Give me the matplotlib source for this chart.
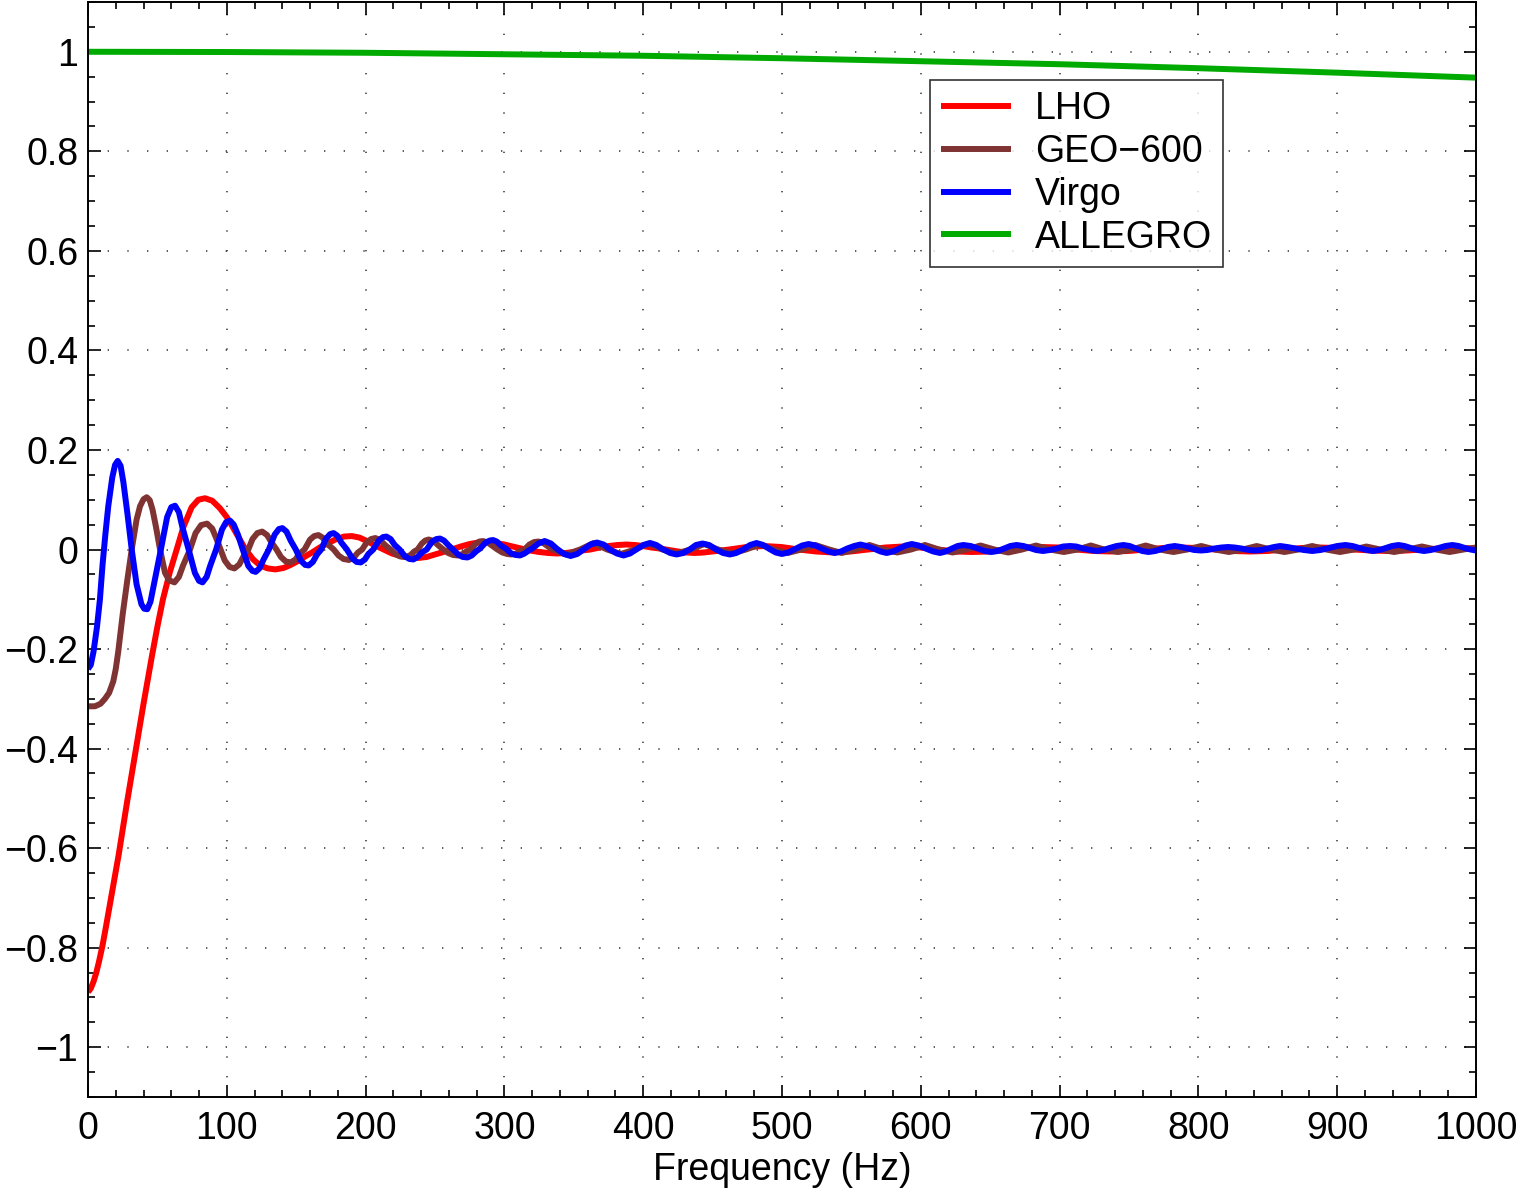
import matplotlib
matplotlib.use("Agg")
import matplotlib.pyplot as plt
from matplotlib.ticker import MultipleLocator, FuncFormatter

plt.rcParams['font.family'] = ['Liberation Sans', 'DejaVu Sans']

# ---------------- data (frequency Hz, overlap value) ----------------
lho_points = [
    (0, -0.889), (2, -0.882), (4, -0.868), (6, -0.85), (8, -0.827), (10.5, -0.795), (13, -0.757),
    (16, -0.71), (22, -0.615), (28, -0.51),
    (34, -0.41), (40, -0.31), (46, -0.215), (50, -0.155), (54, -0.1), (59, -0.045), (63.9, 0.0),
    (68.7, 0.045), (74.7, 0.085), (79.5, 0.1), (84.3, 0.103), (89.5, 0.098), (95, 0.083),
    (100, 0.065), (104.7, 0.043), (109, 0.022), (113.5, 0.0), (119, -0.02), (124, -0.032),
    (129.5, -0.038), (135, -0.04), (141, -0.037), (146, -0.031), (152, -0.022), (157, -0.013),
    (162, -0.005), (167, 0.004), (173, 0.013), (179, 0.021), (184.5, 0.026), (190, 0.027),
    (195.5, 0.024), (201, 0.017), (207, 0.008), (213, 0.0), (219, -0.008), (225, -0.013),
    (231.5, -0.016), (238, -0.017), (244, -0.015), (250, -0.01), (256, -0.005), (262, 0.0),
    (268.5, 0.006), (275, 0.011), (281, 0.014), (287, 0.015), (293.5, 0.013), (300, 0.01),
    (306, 0.006), (312, 0.002), (318.5, -0.002), (325, -0.005), (331.5, -0.007), (338, -0.008),
    (344, -0.007), (350, -0.005), (356, -0.002), (362, 0.0), (368.5, 0.004), (375, 0.007),
    (381.5, 0.009), (388, 0.01), (394, 0.009), (400, 0.007), (406, 0.004), (412, 0.002),
    (418.5, -0.001), (425, -0.004), (431, -0.006), (437, -0.007), (443.5, -0.006), (450, -0.004),
    (456, -0.002), (462, 0.0), (474.5, 0.005), (487, 0.007), (499.5, 0.005), (512, 0.0),
    (524.5, -0.004), (537, -0.006), (549.5, -0.004), (562, 0.0), (574.5, 0.004), (587, 0.006),
    (599.5, 0.004), (612, 0.0), (624.5, -0.004), (637, -0.005), (649.5, -0.004), (662, 0.0),
    (674.5, 0.004), (687, 0.005), (699.5, 0.004), (712, 0.0), (724.5, -0.003), (737, -0.004),
    (749.5, -0.003), (762, 0.0), (774.5, 0.003), (787, 0.004), (799.5, 0.003), (812, 0.0),
    (824.5, -0.003), (837, -0.004), (849.5, -0.003), (862, 0.0), (874.5, 0.003), (887, 0.004),
    (899.5, 0.003), (912, 0.0), (924.5, -0.002), (937, -0.003), (949.5, -0.002), (962, 0.0),
    (974.5, 0.002), (987, 0.003), (1000, 0.002)]

geo_points = [
    (0, -0.315), (5, -0.315), (9, -0.31), (12.2, -0.3), (15.2, -0.288), (18.2, -0.265),
    (20, -0.24), (21.8, -0.205), (25, -0.13), (28.3, -0.062), (31.5, 0.0), (35, 0.06),
    (37.5, 0.087), (40, 0.101), (42.3, 0.105), (44.5, 0.099), (46.5, 0.08), (49, 0.045),
    (51.9, 0.0), (55.5, -0.047), (58.5, -0.062), (62.3, -0.066), (65.5, -0.055), (68.5, -0.032),
    (73.5, 0.0), (77.5, 0.033), (81.5, 0.049), (85.8, 0.052), (89.5, 0.042), (92.5, 0.022),
    (95.5, 0.0), (98.5, -0.022), (102, -0.035), (105.5, -0.038), (109, -0.03), (112, -0.014),
    (115.5, 0.0), (118.5, 0.021), (122, 0.033), (125.5, 0.036), (129, 0.029), (132.5, 0.013),
    (135.8, 0.0), (139, -0.015), (142.5, -0.024), (146, -0.026), (149.5, -0.02), (152.5, -0.008),
    (156, 0.0), (160, 0.02), (163, 0.027), (166, 0.029), (169, 0.024), (172.5, 0.011), (177, 0.0),
    (180.5, -0.012), (184, -0.019), (188, -0.021), (191.5, -0.016), (194.5, -0.006), (197.5, 0.0),
    (201, 0.015), (204, 0.021), (207, 0.023), (210.5, 0.019), (214, 0.009), (218, 0.0),
    (221.5, -0.009), (225, -0.014), (229, -0.015), (232.5, -0.011), (235, -0.004), (237.5, 0.0),
    (240.5, 0.012), (243, 0.018), (245.5, 0.02), (249, 0.017), (252.5, 0.008), (256, 0.0),
    (259.5, -0.007), (263, -0.011), (266.5, -0.012), (270, -0.009), (273, -0.003), (275.5, 0.0),
    (279, 0.011), (282, 0.016), (284.5, 0.017), (288, 0.014), (291.5, 0.007), (295, 0.0),
    (298.5, -0.006), (302, -0.009), (305, -0.01), (308.5, -0.008), (311.5, -0.003), (314.5, 0.0),
    (318, 0.01), (321.5, 0.015), (324.5, 0.016), (328, 0.013), (331.5, 0.006), (334.5, 0.0),
    (344.5, -0.01), (354.5, 0.0), (364.3, 0.013), (374, 0.0), (384, -0.009), (394, 0.0),
    (404, 0.012), (414, 0.0), (424, -0.008), (434, 0.0), (444, 0.011), (454, 0.0), (464, -0.008),
    (474, 0.0), (484, 0.01), (494, 0.0), (504, -0.007), (514, 0.0), (524, 0.009), (534, 0.0),
    (543, -0.007), (553, 0.0), (563, 0.009), (573, 0.0), (583, -0.006), (593, 0.0), (603, 0.009),
    (613, 0.0), (623, -0.006), (633, 0.0), (643, 0.008), (653, 0.0), (663, -0.006), (673, 0.0),
    (683, 0.008), (693, 0.0), (703, -0.005), (713, 0.0), (722.5, 0.008), (732, 0.0),
    (742, -0.005), (752, 0.0), (762, 0.008), (772, 0.0), (782, -0.005), (792, 0.0), (802, 0.007),
    (812, 0.0), (822, -0.005), (832, 0.0), (842, 0.007), (852, 0.0), (862, -0.005), (872, 0.0),
    (882, 0.007), (892, 0.0), (902, -0.005), (912, 0.0), (921, 0.006), (931, 0.0), (941, -0.005),
    (951, 0.0), (961, 0.006), (971, 0.0), (981, -0.005), (991, 0.0), (1000, 0.004)]

virgo_points = [
    (0, -0.24), (2, -0.232), (4, -0.205), (6.5, -0.155), (8.6, -0.1), (10.5, -0.03),
    (12.5, 0.03), (14.6, 0.087), (17.5, 0.145), (19.5, 0.17), (21.4, 0.178), (23.5, 0.168),
    (25.5, 0.135), (28.5, 0.07), (31.5, 0.0), (35, -0.07), (38.5, -0.11), (40.5, -0.119),
    (42.7, -0.12), (45, -0.105), (47.5, -0.07), (52.5, 0.0), (57, 0.065), (60, 0.085),
    (62.7, 0.088), (65.5, 0.075), (68, 0.045), (72.5, 0.0), (77, -0.047), (80, -0.063),
    (82.5, -0.066), (85.5, -0.055), (88, -0.033), (92.3, 0.0), (96.5, 0.04), (99.5, 0.055),
    (102.3, 0.058), (105, 0.05), (108, 0.03), (111.5, 0.0), (115.5, -0.033), (118.5, -0.043),
    (120.8, -0.045), (123.5, -0.038), (126.5, -0.02), (130.3, 0.0), (134.5, 0.03),
    (137.5, 0.041), (140, 0.043), (143, 0.036), (146, 0.018), (149.7, 0.0), (153.5, -0.023),
    (156.5, -0.031), (159, -0.032), (162, -0.025), (165, -0.01), (168, 0.0), (171.5, 0.022),
    (174.5, 0.031), (176.9, 0.033), (179.5, 0.028), (182.5, 0.014), (186.5, 0.0),
    (190.5, -0.018), (193.5, -0.025), (196.5, -0.026), (199.5, -0.02), (202, -0.009),
    (205.5, 0.0), (209.5, 0.018), (212.5, 0.025), (215, 0.026), (218, 0.021), (221, 0.009),
    (224.5, 0.0), (228.5, -0.014), (231.5, -0.019), (234.4, -0.02), (237.5, -0.015),
    (240.5, -0.006), (244, 0.0), (248, 0.016), (251, 0.021), (253.6, 0.022), (256.5, 0.018),
    (259.5, 0.009), (263, 0.0), (267, -0.011), (270, -0.015), (273.4, -0.016), (276.5, -0.012),
    (279.5, -0.004), (282.5, 0.002), (286.5, 0.014), (289.5, 0.018), (291.8, 0.019),
    (294.5, 0.016), (297.5, 0.008), (301, 0.002), (305, -0.008), (308, -0.011), (311.3, -0.012),
    (314.5, -0.008), (317.5, -0.002), (320, 0.002), (324.5, 0.012), (329, 0.017),
    (333.5, 0.012), (338, 0.001), (343, -0.009), (347.7, -0.013), (352.5, -0.009), (357, 0.0),
    (362, 0.01), (366.7, 0.014), (371.5, 0.01), (376, 0.0), (381, -0.008), (385.8, -0.012),
    (390.5, -0.008), (395, 0.0), (400, 0.009), (405, 0.013), (409.5, 0.009), (414.5, 0.0),
    (419.5, -0.007), (424, -0.01), (429, -0.007), (433.5, 0.0), (438, 0.009), (442.7, 0.012),
    (447.5, 0.009), (452.5, 0.0), (457.5, -0.007), (462.5, -0.01), (467, -0.007), (472, 0.0),
    (477, 0.009), (481.6, 0.013), (486.5, 0.009), (491, 0.001), (495.5, -0.006),
    (499.9, -0.009), (504.5, -0.006), (509.5, 0.001), (514.5, 0.008), (519.2, 0.011),
    (524, 0.008), (528.5, 0.002), (533.5, -0.004), (538, -0.007), (542.5, -0.004), (547, 0.002),
    (552, 0.007), (556.5, 0.01), (561, 0.007), (566, 0.002), (571, -0.004), (575.4, -0.007),
    (580, -0.004), (584.5, 0.002), (589, 0.008), (593.5, 0.011), (598.5, 0.008), (603.5, 0.002),
    (609, -0.004), (613.8, -0.007), (618, -0.004), (622.5, 0.002), (626.5, 0.007),
    (630.6, 0.009), (636, 0.007), (641, 0.002), (646, -0.003), (651, -0.005), (655.5, -0.003),
    (660, 0.002), (664.5, 0.007), (669, 0.009), (674, 0.007), (678.5, 0.003), (683, -0.001),
    (688, -0.003), (693, -0.001), (698, 0.002), (702.5, 0.006), (707.5, 0.007), (712, 0.006),
    (717, 0.002), (722, -0.001), (726.7, -0.003), (731.5, -0.001), (736, 0.003), (741, 0.007),
    (746, 0.009), (750.5, 0.007), (755, 0.002), (759.5, -0.003), (764, -0.005), (769, -0.003),
    (773.5, 0.001), (778, 0.005), (783, 0.007), (787.5, 0.005), (792.5, 0.002), (797, -0.001),
    (802, -0.002), (806.5, -0.001), (811.5, 0.002), (816.5, 0.004), (821.5, 0.005),
    (826, 0.004), (831, 0.002), (836, -0.001), (840.8, -0.002), (845.5, -0.001), (850, 0.002),
    (854.5, 0.005), (858.8, 0.007), (864, 0.005), (870, 0.002), (876, -0.001), (882, -0.003),
    (888, -0.001), (894, 0.003), (900, 0.007), (906, 0.009), (911, 0.007), (916, 0.003),
    (921, -0.001), (925.8, -0.003), (930.5, -0.001), (935, 0.003), (939.5, 0.007),
    (944.2, 0.009), (948.5, 0.007), (953, 0.003), (958, -0.001), (962.5, -0.003),
    (967.5, -0.001), (973, 0.003), (978, 0.007), (983, 0.009), (987.5, 0.007), (992, 0.003),
    (996, 0.0), (1000, -0.002)]

allegro_points = [
    (0, 1.0), (100, 0.9995), (200, 0.998), (300, 0.995), (400, 0.992), (500, 0.987),
    (600, 0.981), (700, 0.975), (800, 0.967), (900, 0.958), (1000, 0.948)]

labels = ['LHO', 'GEO\u2212600', 'Virgo', 'ALLEGRO']
colors = ['#ff0000', '#7f3333', '#0000ff', '#00aa00']

x_ticks = [0, 100, 200, 300, 400, 500, 600, 700, 800, 900, 1000]
y_ticks = [-1, -0.8, -0.6, -0.4, -0.2, 0, 0.2, 0.4, 0.6, 0.8, 1]

# ---------------- figure ----------------
fig = plt.figure(figsize=(15.18, 11.88), dpi=100)
ax = fig.add_axes([88 / 1518, 1 - 1097 / 1188, (1476 - 88) / 1518, (1097 - 2) / 1188])

lw = 4.3
series = [lho_points, geo_points, virgo_points, allegro_points]
for pts, lab, c in zip(series, labels, colors):
    f = [p[0] for p in pts]
    v = [p[1] for p in pts]
    ax.plot(f, v, color=c, lw=lw, label=lab, solid_joinstyle='round', solid_capstyle='butt')

ax.set_xlim(0, 1000)
ax.set_ylim(-1.1, 1.1)
ax.set_xticks(x_ticks)
ax.set_yticks(y_ticks)
ax.xaxis.set_minor_locator(MultipleLocator(20))
ax.yaxis.set_minor_locator(MultipleLocator(0.05))
ax.yaxis.set_major_formatter(FuncFormatter(lambda v, p: ('%g' % v).replace('-', '\u2212')))
ax.tick_params(which='both', direction='in', top=True, right=True, labelsize=27, width=1.2)
ax.tick_params(which='major', length=9)
ax.tick_params(which='minor', length=5)
ax.tick_params(axis='x', which='major', pad=10)
ax.tick_params(axis='y', which='major', pad=7)
for s in ax.spines.values():
    s.set_linewidth(1.4)
ax.grid(True, which='major', color='0.25', linestyle=(0, (0.8, 11)), linewidth=1.2)
ax.set_xlabel('Frequency (Hz)', fontsize=27, labelpad=4)

leg = ax.legend(loc='upper left', bbox_to_anchor=((930 - 88) / 1388, 1 - (80 - 2) / 1095),
                borderaxespad=0, fontsize=27, frameon=True, fancybox=False,
                edgecolor='black', handlelength=1.85, handletextpad=0.65,
                labelspacing=0.18, borderpad=0.3)
leg.get_frame().set_linewidth(1.2)
for l in leg.get_lines():
    l.set_linewidth(4.3)

fig.savefig('out.png', dpi=100)
